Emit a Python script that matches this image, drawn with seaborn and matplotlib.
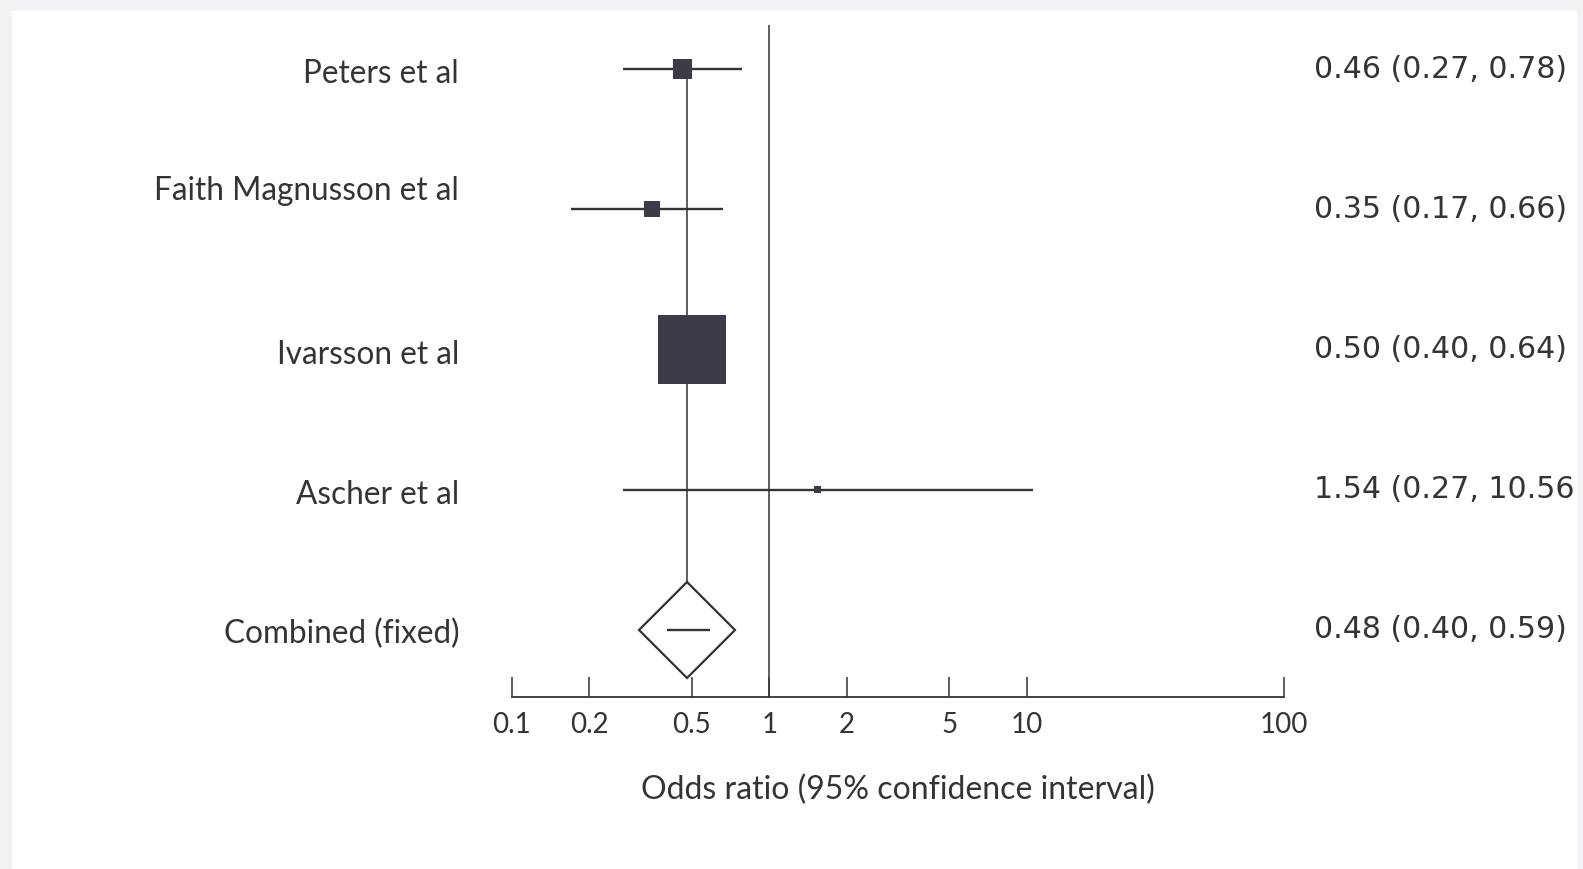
import matplotlib
matplotlib.use("Agg")
import matplotlib.pyplot as plt
import seaborn as sns
import pandas as pd
from matplotlib.patches import Rectangle

# ---- data ----
studies = ["Peters et al", "Faith Magnusson et al", "Ivarsson et al", "Ascher et al"]
odds_ratio = [0.46, 0.35, 0.50, 1.54]
ci_low = [0.27, 0.17, 0.40, 0.27]
ci_high = [0.78, 0.66, 0.64, 10.56]
combined_label = "Combined (fixed)"
combined_or = 0.48
combined_low = 0.40
combined_high = 0.59
tick_values = [0.1, 0.2, 0.5, 1, 2, 5, 10, 100]
tick_labels = ["0.1", "0.2", "0.5", "1", "2", "5", "10", "100"]
x_label = "Odds ratio (95% confidence interval)"

# ---- style ----
box_side_pt = [13.8, 11.6, 49.0, 5.0]
label_dy_px = [-5, 18, -5, -5, -4]
ink = "#333338"
box_col = "#3c3c48"
font = ["Lato", "DejaVu Sans"]
num_font = ["DejaVu Sans"]

sns.set_theme(style="white")
plt.rcParams["font.family"] = font

W, H = 1583, 869
fig = plt.figure(figsize=(W / 100, H / 100), dpi=100)
fig.patch.set_facecolor("#f1f1f6")
bg = Rectangle((12 / W, 0), (1577 - 12) / W, (H - 11) / H,
               transform=fig.transFigure, facecolor="white",
               edgecolor="none", zorder=-10)
fig.patches.append(bg)

left_px, right_px, top_px, bottom_px = 512, 1284, 25, 697
ax = fig.add_axes([left_px / W, 1 - bottom_px / H,
                   (right_px - left_px) / W, (bottom_px - top_px) / H])
ax.set_facecolor("none")
ax.set_zorder(2)

n = len(studies)
rows = list(range(n))
comb_row = n
df = pd.DataFrame({"study": studies, "or": odds_ratio, "row": rows,
                   "lo": ci_low, "hi": ci_high})

# CI lines
ax.hlines(df["row"], df["lo"], df["hi"], color=ink, lw=1.7, zorder=2)
# combined estimate vertical line
ax.vlines(combined_or, 0, comb_row, color=ink, lw=1.1, zorder=1)
# reference line at 1
ax.axvline(1, color=ink, lw=1.1, zorder=1)

sns.scatterplot(data=df, x="or", y="row", size="study",
                sizes={s: b ** 2 for s, b in zip(studies, box_side_pt)},
                marker="s", color=box_col, edgecolor="none", legend=False,
                ax=ax, zorder=3)

# combined diamond
ax.plot([combined_or], [comb_row], marker="D", markersize=48.5,
        markerfacecolor="white", markeredgecolor=ink, markeredgewidth=1.6,
        linestyle="none", zorder=4)
ax.hlines([comb_row], [combined_low], [combined_high], color=ink, lw=1.7, zorder=5)

ax.set_xscale("log")
ax.set_xlim(0.1, 100)
ax.set_ylim(comb_row + 0.478, -0.314)
ax.set_xticks(tick_values)
ax.set_xticklabels(tick_labels)
ax.minorticks_off()
ax.set_yticks([])
ax.set_ylabel("")
ax.set_xlabel(x_label, fontsize=23, color=ink, labelpad=26)
for s in ["top", "left", "right"]:
    ax.spines[s].set_visible(False)
ax.spines["bottom"].set_color(ink)
ax.spines["bottom"].set_linewidth(1.3)
ax.tick_params(axis="x", direction="in", length=14.5, width=1.1, color=ink,
               labelsize=20, labelcolor=ink, pad=11, bottom=True)

# left labels and right estimates
all_labels = studies + [combined_label]
all_rows = rows + [comb_row]
est_text = [f"{o:.2f} ({l:.2f}, {h:.2f})" for o, l, h in
            zip(odds_ratio + [combined_or], ci_low + [combined_low], ci_high + [combined_high])]
label_x_px = 459
est_x_px = 1314
for lab, r, et, dy in zip(all_labels, all_rows, est_text, label_dy_px):
    y = ax.transData.transform((1, r))[1]
    fig.text(label_x_px / W, (y + dy) / H, lab, ha="right", va="center",
             fontsize=22.7, color=ink)
    t = fig.text(est_x_px / W, y / H, et, ha="left", va="center",
                 fontsize=21.6, color=ink, family=num_font)
    t.set_clip_path(bg)

fig.savefig("out.png", dpi=100)
